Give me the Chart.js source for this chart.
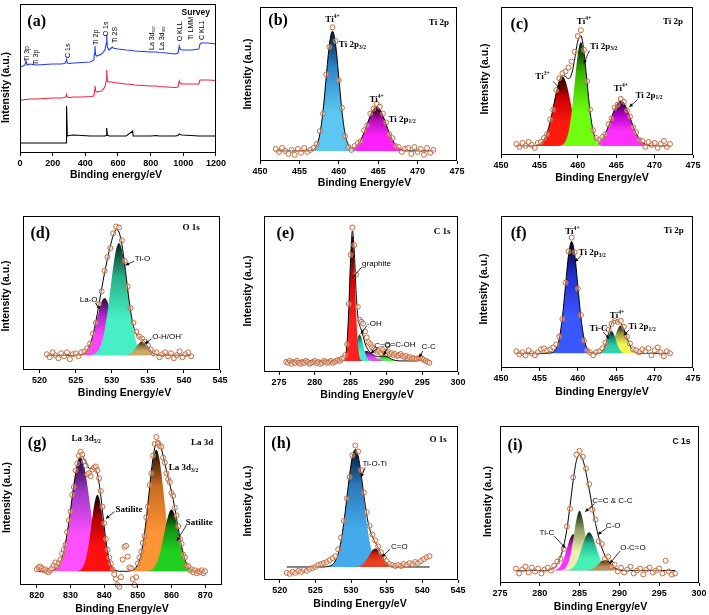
<!DOCTYPE html>
<html>
<head>
<meta charset="utf-8">
<script src="https://cdn.jsdelivr.net/npm/chart.js@4.4.1/dist/chart.umd.min.js"></script>
<style>
  html, body { margin: 0; padding: 0; background: #fff; }
  body { position: relative; width: 709px; height: 615px; overflow: hidden; }
  canvas { position: absolute; }
</style>
</head>
<body>
<script>
const SANS = "'Liberation Sans', Arial, Helvetica, sans-serif";
const SERIF = "'Liberation Serif', 'Times New Roman', Times, serif";

// ---------- (a) survey spectra ----------
const surveyEnergy = [0, 20, 30, 37, 44, 60, 100, 150, 200, 250, 275, 282, 285, 290, 300, 330, 380, 430, 452, 456, 459, 463, 470, 500, 520, 528, 531, 535, 545, 565, 570, 600, 650, 690, 693, 700, 750, 800, 835, 850, 900, 950, 968, 975, 980, 990, 1050, 1095, 1102, 1110, 1150, 1200];
const surveyBlue = [86, 87, 88, 92, 88, 89, 88, 88.5, 89, 89, 89.5, 92, 93, 90, 89.5, 90, 90.5, 91, 93, 100, 107, 98, 97, 99, 103, 110, 118, 106, 103, 106, 105, 104, 103, 102.5, 102.5, 102, 101.5, 101, 101, 100.5, 100, 99, 100, 107, 104, 103, 103, 104, 109, 110, 110, 109];
const surveyRed = [53, 53, 53.5, 53.5, 53.5, 54, 54, 54.5, 55, 55, 55.5, 57, 58, 56, 55.5, 56, 56, 56.5, 57, 62, 67, 62, 61, 62, 66, 72, 83, 72, 71, 71, 70.5, 70, 69, 68.5, 68.5, 68, 67.5, 67, 67, 66.5, 66, 65.5, 66, 72, 70, 69, 69, 69, 73, 73, 73, 72.5];
const surveyBlack = [10, 10, 10, 10, 10, 10, 10, 10, 10, 10, 10, 10, 47, 17, 17.5, 18, 17.5, 17, 17, 17, 17, 17, 17, 17, 17, 17.5, 25, 18, 17, 17, 17, 17, 17, 22, 17, 17, 17, 17, 17.5, 17, 17, 17, 17.5, 19, 18.5, 18, 17.5, 17, 17, 17, 17, 17];
const surveyTicks = [0, 200, 400, 600, 800, 1000, 1200];

// tick sets
const tiTicks = [450, 455, 460, 465, 470, 475];
const o1sTicks = [520, 525, 530, 535, 540, 545];
const c1sTicks = [275, 280, 285, 290, 295, 300];
const la3dTicks = [820, 830, 840, 850, 860, 870];

// ---------- (b) Ti 2p, grid 452..472 step 0.4 ----------
const bExp = [2, -1, 3, 0, -3, 1, -4, 2, -2, 3, -1, 1, 3, 7, 20, 38, 78, 106, 126, 112, 72, 44, 15, 4, 1, 5, 8, 10, 21, 26, 38, 43, 48, 45, 38, 29, 17, 13, 5, 4, -1, 2, 3, -3, 4, -1, 2, -4, 3, -2, 1];
const bTi32 = { from: 456.0, y: [0, 0.3, 1.5, 5.8, 17.3, 40.7, 74.9, 108, 122, 108, 74.9, 40.7, 17.3, 5.8, 1.5, 0.3, 0] };
const bTi12 = { from: 460.8, y: [0, 0.5, 1.3, 3.0, 6.1, 11.2, 18.5, 27.3, 36.0, 42.6, 45, 42.6, 36.0, 27.3, 18.5, 11.2, 6.1, 3.0, 1.3, 0.5, 0] };

// ---------- (c) Ti 2p, grid 452..472 step 0.4 ----------
const cExp = [2, -1, 3, 0, 4, 1, -2, 3, 4, 8, 12, 27, 37, 57, 69, 74, 76, 80, 86, 96, 112, 118, 98, 66, 37, 16, 8, 6, 9, 12, 22, 28, 39, 42, 48, 45, 36, 30, 19, 14, 6, 5, -1, 4, 1, 3, -2, 2, 5, -1, 2];
const cTi3 = { from: 454.0, y: [0, 0.3, 1.0, 2.8, 6.5, 13.5, 24.5, 39.0, 54.3, 66.2, 70.7, 66.2, 54.3, 39.0, 24.5, 13.5, 6.5, 2.8, 1.0, 0.3, 0] };
const cTi4 = { from: 457.2, y: [0, 0.2, 1.2, 4.7, 14.3, 34.4, 64.3, 93.5, 106, 93.5, 64.3, 34.4, 14.3, 4.7, 1.2, 0.2, 0] };
const cTi12 = { from: 461.2, y: [0, 0.3, 0.7, 1.7, 3.7, 7.3, 12.8, 20.3, 29.0, 37.5, 43.7, 46, 43.7, 37.5, 29.0, 20.3, 12.8, 7.3, 3.7, 1.7, 0.7, 0.3, 0] };

// ---------- (d) O 1s, grid 521..541 step 0.4 ----------
const dExp = [1, -2, 3, 0, -3, 2, -1, 3, -4, 1, 2, -1, 3, 4, 7, 12, 22, 33, 52, 65, 86, 100, 109, 124, 131, 130, 117, 96, 70, 48, 33, 24, 19, 17, 14, 10, 6, 2, 3, -2, 1, 3, -1, 2, -3, 0, 4, -2, 1, 3, -1];
const dLaO = { from: 525.0, y: [0, 0.3, 0.8, 2.3, 5.4, 11.1, 20.2, 32.1, 44.8, 54.6, 58.3, 54.6, 44.8, 32.1, 20.2, 11.1, 5.4, 2.3, 0.8, 0.3, 0] };
const dTiO = { from: 526.6, y: [0, 0.3, 0.8, 2.4, 5.9, 13.0, 25.2, 43.4, 66.3, 89.7, 107.6, 114.3, 107.6, 89.7, 66.3, 43.4, 25.2, 13.0, 5.9, 2.4, 0.8, 0.3, 0] };
const dOH = { from: 531.8, y: [0, 0.6, 1.9, 4.6, 8.5, 12.3, 14, 12.3, 8.5, 4.6, 1.9, 0.6, 0] };

// ---------- (e) C 1s, grid 276..296 step 0.25 ----------
const eExp = [-1, -2, 0, -3, -1, -2, 0, -2, -3, -1, -2, 0, -1, -3, -2, -1, 0, -2, -1, -3, -2, 0, -1, -2, -1, 0, -2, -1, 0,
  1, 0, 2, 3, 6, 17, 58, 108, 136, 118, 88, 55, 42, 40, 38, 30, 24, 19, 17, 14,
  12, 11, 9, 10, 8, 11, 9, 8, 9, 7, 8, 6, 7, 5, 6, 7, 5, 4, 5, 3, 4, 2, 3, 2, 2, 3, 3, 2, 1, 0, -1, -2];
const eGraphite = { from: 283.75, y: [0, 0.6, 4.0, 18.3, 53.8, 103.1, 128, 103.1, 53.8, 18.3, 4.0, 0.6, 0] };
const eOH = { from: 284.75, y: [0, 1.2, 3.7, 8.8, 16.4, 23.8, 27, 23.8, 16.4, 8.8, 3.7, 1.2, 0.3, 0] };
const eCO = { from: 284.75, y: [0, 0.4, 0.8, 1.5, 2.5, 3.8, 5.4, 7.1, 8.6, 9.6, 10, 9.6, 8.6, 7.1, 5.4, 3.8, 2.5, 1.5, 0.8, 0.4, 0] };
const eOCOH = { from: 287.75, y: [0, 0.2, 0.5, 1.0, 1.8, 2.8, 3.9, 4.7, 5, 4.7, 3.9, 2.8, 1.8, 1.0, 0.5, 0.2, 0] };
const eCC = { from: 294.0, y: [0, 0.5, 1.4, 2, 1.4, 0.5, 0] };

// ---------- (f) Ti 2p, grid 452..472 step 0.4 ----------
const fExp = [2, -1, 1, -2, 3, 0, -2, 1, 4, 5, 3, 4, 6, 9, 17, 35, 72, 104, 118, 103, 66, 39, 13, 3, 1, -2, 1, 2, 5, 11, 24, 30, 33, 32, 33, 27, 17, 10, 4, 3, 1, 4, 2, 5, -2, 3, 6, 1, -3, 2, 0];
const fTi32 = { from: 456.0, y: [0, 0.3, 1.3, 5.0, 15.4, 37.1, 69.2, 100.5, 114, 100.5, 69.2, 37.1, 15.4, 5.0, 1.3, 0.3, 0] };
const fTiC = { from: 462.4, y: [0, 0.3, 2.1, 7.9, 17.4, 22.7, 17.4, 7.9, 2.1, 0.3, 0] };
const fTi12 = { from: 463.2, y: [0, 0.8, 2.9, 7.9, 16.0, 24.5, 28.3, 24.5, 16.0, 7.9, 2.9, 0.8, 0] };

// ---------- (g) La 3d, grid 820..870 step 0.5 ----------
const gExp = [2, 4, 5, 3, 1, 2, 0, -1, 1, 3,
  6, 9, 5, 8, 12, 18, 22, 27, 40, 52,
  61, 78, 86, 103, 110, 118, 122, 119, 112, 108,
  99, 100, 97, 104, 106, 107, 103, 95, 82, 66,
  49, 33, 22, 14, 8, 2, -3, -8, -14, -16,
  -6, 12, 25, 26, 15, 4, 3, -8, -14, -6,
  8, 14, 20, 29, 36, 55, 66, 88, 100, 118,
  130, 137, 131, 128, 127, 116, 111, 100, 94, 91,
  80, 77, 65, 57, 46, 33, 28, 17, 14, 6,
  5, 1, 2, -1, 1, -2, 0, -1, 1, -2, 0];
const gLa52 = { from: 824.0, y: [0.4, 0.8, 1.4, 2.5, 4.0, 6.4, 9.8, 14.6, 20.9, 28.9, 38.7, 50.1, 62.6, 75.6, 88.2, 99.4, 108.3, 114.0, 116, 114.0, 108.3, 99.4, 88.2, 75.6, 62.6, 50.1, 38.7, 28.9, 20.9, 14.6, 9.8, 6.4, 4.0, 2.5, 1.4, 0.8, 0.4] };
const gSat1 = { from: 832.0, y: [0.3, 0.7, 1.6, 3.4, 6.6, 11.8, 19.5, 29.7, 42.1, 55.1, 66.9, 75.1, 78, 75.1, 66.9, 55.1, 42.1, 29.7, 19.5, 11.8, 6.6, 3.4, 1.6, 0.7, 0.3] };
const gLa32 = { from: 847.5, y: [0.3, 0.6, 1.2, 2.3, 4.1, 7.1, 11.7, 18.3, 27.3, 38.9, 53.0, 68.7, 85.0, 100.2, 112.8, 121.1, 124, 121.1, 112.8, 100.2, 85.0, 68.7, 53.0, 38.9, 27.3, 18.3, 11.7, 7.1, 4.1, 2.3, 1.2, 0.6, 0.3] };
const gSat2 = { from: 853.0, y: [0.4, 0.8, 1.5, 2.8, 4.8, 7.8, 12.1, 17.8, 24.9, 33.0, 41.7, 49.9, 56.8, 61.4, 63, 61.4, 56.8, 49.9, 41.7, 33.0, 24.9, 17.8, 12.1, 7.8, 4.8, 2.8, 1.5, 0.8, 0.4] };

// ---------- (h) O 1s, grid 521..541 step 0.4 ----------
const hExp = [-6, -7, -5, -6, -4, -5, -3, -4, -2, -1, 0, 2, 3, 4, 5, 7, 9, 11, 18, 30, 47, 70, 92, 114, 124, 118, 99, 76, 56, 42, 33, 27, 21, 15, 10, 6, 3, 2, 1, 2, 1, 3, 2, 4, 3, 5, 4, 6, 8, 10, 11];
const hTiOTi = { from: 526.2, y: [0, 0.3, 0.9, 2.5, 6.2, 13.6, 26.4, 45.6, 69.6, 94.2, 112.9, 120, 112.9, 94.2, 69.6, 45.6, 26.4, 13.6, 6.2, 2.5, 0.9, 0.3, 0] };
const hCO = { from: 530.6, y: [0, 0.5, 1.6, 3.9, 7.8, 12.8, 17.2, 19, 17.2, 12.8, 7.8, 3.9, 1.6, 0.5, 0] };

// ---------- (i) C 1s, grid 277..297 step 0.4 ----------
const iExp = [2, -3, 1, 4, -2, 3, -1, 2, -3, 1, 3, 0, 5, 9, 12, 22, 45, 63, 95, 118, 122, 116, 104, 88, 62, 52, 30, 27, 12, 14, 4, 6, -1, 3, -2, 1, 4, -3, 0, 2, -4, 1, 3, -2, 0, 2, -3, 10, -1, -4, -3];
const iFit = { from: 281.0, y: [0, 1, 3, 7, 14, 25, 42, 66, 92, 112, 118, 113, 100, 83, 65, 48, 34, 23, 15, 10, 6, 3, 1, 0] };
const iTiC = { from: 281.4, y: [0, 0.4, 1.6, 5.0, 12.0, 22.5, 32.6, 37, 32.6, 22.5, 12.0, 5.0, 1.6, 0.4, 0] };
const iCC = { from: 282.2, y: [0, 0.2, 1.0, 4.5, 14.0, 31.7, 51.8, 61, 51.8, 31.7, 14.0, 4.5, 1.0, 0.2, 0] };
const iCO = { from: 283.0, y: [0, 0.3, 1.1, 3.3, 8.0, 16.0, 26.3, 35.3, 39, 35.3, 26.3, 16.0, 8.0, 3.3, 1.1, 0.3, 0] };
const iOCO = { from: 285.8, y: [0, 0.5, 1.5, 3.6, 6.7, 9.7, 11, 9.7, 6.7, 3.6, 1.5, 0.5, 0] };

// text styles: size, family, weight
const STY = {
  P: [16, SERIF, 'bold'],
  S: [9, SERIF, 'bold'],
  s: [8, SANS, 'normal'],
  T: [8.5, SANS, 'bold'],
  r: [7, SANS, 'normal']
};

const panels = [
  { key: 'a', box: [20, 4, 216, 153], xr: [0, 1200], yr: [0, 149], ticks: surveyTicks,
    xTitle: 'Binding energy/eV', xt: [-2, 22], yt: [14, 9],
    lines: [[surveyBlue, '#1f3cf0'], [surveyRed, '#f0203c'], [surveyBlack, '#000000']],
    labels: [['(a)', 102, 130.7, 'P', 'center'], ['Survey', 1076, 140, 'T', 'center'],
      ['Ti 3p', 41, 91.7, 'r'], ['Ti 3p', 98, 88, 'r'], ['C 1s', 296, 95, 'r'], ['Ti 2p', 463, 108, 'r'],
      ['O 1s', 527, 116.7, 'r'], ['Ti 2S', 580, 110, 'r'], ['La 3d_{5/2}', 806, 103, 'r'], ['La 3d_{3/2}', 867, 103, 'r'],
      ['O KLL', 980, 111.7, 'r'], ['Ti LMM', 1047, 113, 'r'], ['C KL1', 1112, 113, 'r']],
    arrows: [] },
  { key: 'b', box: [260, 4, 457, 161], xr: [450, 475], yr: [-10.3, 146.7], ticks: tiTicks,
    from: 452, step: 0.4, exp: bExp,
    comps: [[bTi32, ['#0b1630', '#2a86c8', '#5cc8f2']], [bTi12, ['#1a0010', '#b810b8', '#ff20ff']]],
    xTitle: 'Binding Energy/eV', xt: [6, 21.7], yt: [12, -10],
    labels: [['(b)', 452.3, 132.3, 'P', 'center'], ['Ti^{4+}', 459.2, 133.3, 'S', 'center'], ['Ti 2p_{3/2}', 460.0, 108, 'S', 'left'],
      ['Ti^{4+}', 464.8, 52.3, 'S', 'center'], ['Ti 2p_{1/2}', 466.3, 32.3, 'S', 'left'], ['Ti 2p', 472.7, 130.7, 'S', 'center']],
    arrows: [] },
  { key: 'c', box: [501, 4, 693, 155], xr: [450, 475], yr: [-9.3, 141.7], ticks: tiTicks,
    from: 452, step: 0.4, exp: cExp,
    comps: [[cTi4, ['#001800', '#38b800', '#70ff10']], [cTi3, ['#120000', '#cc0000', '#ff1a10']], [cTi12, ['#1a0020', '#b000c8', '#ff30ff']]],
    xTitle: 'Binding Energy/eV', xt: [5, 22.7], yt: [16, -2],
    labels: [['(c)', 452.4, 123, 'P', 'center'], ['Ti^{4+}', 460.8, 126.3, 'S', 'center'], ['Ti 2p_{3/2}', 461.6, 101.7, 'S', 'left'],
      ['Ti^{3+}', 455.4, 70.7, 'S', 'center'], ['Ti^{4+}', 465.6, 58.3, 'S', 'center'], ['Ti 2p_{1/2}', 467.5, 51.7, 'S', 'left'],
      ['Ti 2p', 472.4, 126.3, 'S', 'center']],
    arrows: [[461.5, 97.3, 460.8, 84], [456.8, 65.7, 457.8, 57.3], [467.8, 47.3, 466.7, 39.7]] },
  { key: 'd', box: [23, 213, 220, 370], xr: [517.7, 545], yr: [-15, 141.7], ticks: o1sTicks,
    from: 521, step: 0.4, exp: dExp,
    comps: [[dOH, ['#1c1c0c', '#7c7038', '#c8a868']], [dTiO, ['#0a2418', '#26b088', '#46f0c4']], [dLaO, ['#2a0a30', '#a828c8', '#ff44ff']]],
    xTitle: 'Binding Energy/eV', xt: [3, 22.7], yt: [17, 3],
    labels: [['(d)', 520.1, 123.3, 'P', 'center'], ['O 1s', 541.0, 130, 'S', 'center'], ['Ti-O', 533.2, 97.7, 's', 'left'],
      ['La-O', 526.8, 56.7, 's', 'center'], ['O-H/OH^{-}', 535.6, 18.3, 's', 'left']],
    arrows: [[533.1, 95.7, 531.9, 91.7], [527.7, 53.3, 528.4, 46.7], [535.5, 16.7, 534.6, 11.7]] },
  { key: 'e', box: [264, 213, 458, 372], xr: [272.9, 300], yr: [-11.3, 147.7], ticks: c1sTicks,
    from: 276, step: 0.25, exp: eExp,
    comps: [[eGraphite, ['#1a0000', '#c80000', '#ff2020']], [eOH, ['#0c2a1c', '#22c09c', '#44f0d0']], [eCO, ['#2a0038', '#a020c0', '#e048f0']],
      [eOCOH, ['#1a5a1a', '#30c030', '#50f050']], [eCC, ['#106010', '#40d040']]],
    xTitle: 'Binding Energy/eV', xt: [6, 22.7], yt: [16, -3],
    labels: [['(e)', 275.9, 129.3, 'P', 'center'], ['C 1s', 297.8, 131.7, 'S', 'center'], ['graphite', 286.6, 99.3, 's', 'left'],
      ['-OH', 287.3, 38.3, 's', 'left'], ['C=O', 288.3, 15, 's', 'left'], ['O=C-OH', 289.7, 16.5, 's', 'left'], ['C-C', 294.9, 14.3, 's', 'left']],
    arrows: [[286.6, 96, 285.3, 85], [287.3, 36, 286.4, 27.7], [288.7, 12.7, 287.8, 7.7], [290.2, 13.7, 289.6, 6], [295.1, 10.3, 294.6, 3.7]] },
  { key: 'f', box: [501, 213, 693, 368], xr: [450, 475], yr: [-15, 140], ticks: tiTicks,
    from: 452, step: 0.4, exp: fExp,
    comps: [[fTiC, ['#001010', '#108a74', '#30d0a8']], [fTi12, ['#141414', '#9a9a40', '#f4f450']], [fTi32, ['#000020', '#2030d0', '#3a58ff']]],
    xTitle: 'Binding Energy/eV', xt: [5, 24.4], yt: [17, -3],
    labels: [['(f)', 452.3, 121.7, 'P', 'center'], ['Ti^{4+}', 459.3, 124, 'S', 'center'], ['Ti 2p_{3/2}', 460.1, 102.7, 'S', 'left'],
      ['Ti-C', 462.7, 25, 'S', 'center'], ['Ti^{4+}', 465.1, 38.3, 'S', 'center'], ['Ti 2p_{1/2}', 466.6, 27.3, 'S', 'left'],
      ['Ti 2p', 472.5, 125, 'S', 'center']],
    arrows: [[460.5, 100, 459.6, 93.3], [463.3, 21.7, 464.1, 15], [466.7, 24, 466.0, 18.3]] },
  { key: 'g', box: [20, 423, 222, 585], xr: [815, 875], yr: [-14, 148.3], ticks: la3dTicks,
    from: 820, step: 0.5, exp: gExp,
    comps: [[gSat1, ['#000000', '#b00000', '#ff1010']], [gLa52, ['#1e0830', '#a038c8', '#ff50ff']], [gSat2, ['#000000', '#109010', '#20d020']], [gLa32, ['#1a0c00', '#c86c20', '#ff9434']]],
    xTitle: 'Binding Energy/eV', xt: [1, 24.3], yt: [13, -8],
    labels: [['(g)', 820.1, 130, 'P', 'center'], ['La 3d_{5/2}', 830.3, 135, 'S', 'left'], ['La 3d', 869.1, 131, 'S', 'center'],
      ['Satilite', 843.4, 62.7, 'S', 'left'], ['La 3d_{3/2}', 859.2, 106, 'S', 'left'], ['Satilite', 864.2, 49.3, 'S', 'left']],
    arrows: [[843.1, 61, 840.5, 53.7], [864.4, 47, 861.6, 31]] },
  { key: 'h', box: [264, 423, 458, 580], xr: [517.8, 545], yr: [-13.3, 144], ticks: o1sTicks,
    from: 521, step: 0.4, exp: hExp,
    comps: [[hCO, ['#300000', '#c82414', '#e84020']], [hTiOTi, ['#001428', '#2a78bc', '#44aaec']]],
    xTitle: 'Binding Energy/eV', xt: [-1, 24], yt: [16, -2],
    labels: [['(h)', 520.2, 126, 'P', 'center'], ['O 1s', 542.2, 130, 'S', 'center'], ['Ti-O-Ti', 531.6, 105, 's', 'left'], ['C=O', 535.6, 21, 's', 'left']],
    arrows: [[532.0, 101.7, 531.4, 91.7], [535.5, 18.3, 534.3, 10]] },
  { key: 'i', box: [500, 423, 699, 583], xr: [275, 300], yr: [-12.7, 147.3], ticks: c1sTicks,
    from: 277, step: 0.4, exp: iExp, fit: iFit,
    comps: [[iOCO, ['#1a0c00', '#8a5a30', '#c09060']], [iCO, ['#0c2a1a', '#24b890', '#44f0b4']], [iCC, ['#0c1c0c', '#8a9a60', '#eeeeb0']], [iTiC, ['#1a001a', '#c820c8', '#ff34ff']]],
    xTitle: 'Binding Energy/eV', xt: [1, 24], yt: [12, -3],
    labels: [['(i)', 276.9, 126.7, 'P', 'center'], ['C 1s', 297.8, 131.7, 'T', 'center'], ['C=C & C-C', 286.6, 71, 's', 'left'],
      ['C-O', 288.3, 46, 's', 'left'], ['Ti-C', 280.9, 38.3, 's', 'center'], ['O-C=O', 290.1, 23.3, 's', 'left']],
    arrows: [[286.9, 68.3, 285.7, 60], [288.4, 43.3, 287.3, 36.7], [281.8, 35, 283.2, 23.3], [290.1, 20, 288.8, 7.3]] }
];

function pts(xs, ys) { return xs.map((x, i) => ({ x: x, y: ys[i] })); }

function onGrid(xs, step, comp) {
  const out = xs.map(() => 0);
  const off = Math.round((comp.from - xs[0]) / step);
  comp.y.forEach((v, i) => { if (off + i >= 0 && off + i < out.length) out[off + i] = v; });
  return out;
}

// vertical gradient: dark at the peak top, bright over the lower part
function shade(stops, top) {
  const pos = stops.length === 3 ? [0, 0.3, 0.68] : [0, 0.6];
  return (c) => {
    const ch = c.chart;
    if (!ch.chartArea) return stops[stops.length - 1];
    const y0 = ch.scales.y.getPixelForValue(top);
    const y1 = ch.scales.y.getPixelForValue(0);
    const g = ch.ctx.createLinearGradient(0, y0, 0, y1);
    stops.forEach((s, i) => g.addColorStop(pos[i], s));
    g.addColorStop(1, stops[stops.length - 1]);
    return g;
  };
}

// text with ^{sup} and _{sub}
function rich(ctx, str, x, y, sty, align) {
  const [size, fam, weight] = sty;
  const parts = [];
  const re = /([_^])\{([^}]*)\}|([^_^]+)/g;
  let m;
  while ((m = re.exec(str))) {
    if (m[3]) parts.push({ t: m[3], k: 0 });
    else parts.push({ t: m[2], k: m[1] === '^' ? 1 : -1 });
  }
  const fnt = k => weight + ' ' + (k ? size * 0.62 : size) + 'px ' + fam;
  let w = 0;
  parts.forEach(p => { ctx.font = fnt(p.k); p.w = ctx.measureText(p.t).width; w += p.w; });
  let cx = align === 'center' ? x - w / 2 : (align === 'right' ? x - w : x);
  ctx.textAlign = 'left';
  ctx.textBaseline = 'middle';
  parts.forEach(p => {
    ctx.font = fnt(p.k);
    const dy = p.k === 1 ? -size * 0.38 : (p.k === -1 ? size * 0.3 : 0);
    ctx.fillText(p.t, cx, y + dy);
    cx += p.w;
  });
}

function decor(p) {
  return {
    id: 'decor_' + p.key,
    afterDraw(chart) {
      const ctx = chart.ctx, a = chart.chartArea, sx = chart.scales.x, sy = chart.scales.y;
      ctx.save();
      ctx.strokeStyle = '#000';
      ctx.lineWidth = 1;
      ctx.strokeRect(Math.round(a.left) + 0.5, Math.round(a.top) + 0.5, Math.round(a.right - a.left) - 1, Math.round(a.bottom - a.top) - 1);
      ctx.fillStyle = '#000';
      p.arrows.forEach(([x1, y1, x2, y2]) => {
        const X1 = sx.getPixelForValue(x1), Y1 = sy.getPixelForValue(y1);
        const X2 = sx.getPixelForValue(x2), Y2 = sy.getPixelForValue(y2);
        ctx.lineWidth = 0.8;
        ctx.beginPath(); ctx.moveTo(X1, Y1); ctx.lineTo(X2, Y2); ctx.stroke();
        const ang = Math.atan2(Y2 - Y1, X2 - X1);
        ctx.beginPath();
        ctx.moveTo(X2, Y2);
        ctx.lineTo(X2 - 4 * Math.cos(ang - 0.45), Y2 - 4 * Math.sin(ang - 0.45));
        ctx.lineTo(X2 - 4 * Math.cos(ang + 0.45), Y2 - 4 * Math.sin(ang + 0.45));
        ctx.closePath(); ctx.fill();
      });
      p.labels.forEach(([t, x, y, st, al]) => {
        const X = sx.getPixelForValue(x), Y = sy.getPixelForValue(y);
        if (st === 'r') {
          ctx.save(); ctx.translate(X, Y); ctx.rotate(-Math.PI / 2);
          rich(ctx, t, 0, 0, STY[st], 'left');
          ctx.restore();
        } else {
          rich(ctx, t, X, Y, STY[st], al);
        }
      });
      // axis titles
      ctx.font = 'bold 10.5px ' + SANS;
      ctx.textAlign = 'center';
      ctx.textBaseline = 'middle';
      ctx.fillText(p.xTitle, (a.left + a.right) / 2 + p.xt[0], a.bottom + p.xt[1]);
      ctx.save();
      ctx.translate(a.left - p.yt[0], (a.top + a.bottom) / 2 + p.yt[1]);
      ctx.rotate(-Math.PI / 2);
      ctx.fillText('Intensity (a.u.)', 0, 0);
      ctx.restore();
      ctx.restore();
    }
  };
}

function build(p) {
  const [l, t, r, b] = p.box;
  const cv = document.createElement('canvas');
  cv.width = r - l + 42;
  cv.height = b - t + 36;
  cv.style.left = (l - 30) + 'px';
  cv.style.top = (t - 2) + 'px';
  document.body.appendChild(cv);

  const sets = [];
  if (p.lines) {
    p.lines.forEach(([ys, col], k) => {
      sets.push({ data: pts(surveyEnergy, ys), showLine: true, pointRadius: 0, borderColor: col, borderWidth: 1.1, tension: 0, order: k });
    });
  } else {
    const xs = p.exp.map((_, i) => +(p.from + i * p.step).toFixed(2));
    sets.push({ data: pts(xs, p.exp), showLine: false, pointRadius: 2.5, pointBorderWidth: 1,
      pointBorderColor: '#c8683a', pointBackgroundColor: 'rgba(255,250,245,0.35)', order: 0, clip: false });
    let fit;
    if (p.fit) {
      fit = onGrid(xs, p.step, p.fit);
    } else {
      const grids = p.comps.map(([c]) => onGrid(xs, p.step, c));
      fit = xs.map((_, i) => grids.reduce((s, g) => s + g[i], 0));
    }
    sets.push({ data: pts(xs, fit), showLine: true, pointRadius: 0, borderColor: '#000', borderWidth: 1,
      fill: false, cubicInterpolationMode: 'monotone', order: 1 });
    p.comps.forEach(([c, stops], k) => {
      const cx = c.y.map((_, i) => +(c.from + i * p.step).toFixed(2));
      sets.push({ data: pts(cx, c.y), showLine: true, pointRadius: 0, borderWidth: 0, borderColor: 'rgba(0,0,0,0)',
        fill: 'origin', backgroundColor: shade(stops, Math.max(...c.y)), cubicInterpolationMode: 'monotone', order: 2 + k });
    });
  }

  new Chart(cv, {
    type: 'scatter',
    data: { datasets: sets },
    options: {
      responsive: false,
      animation: false,
      devicePixelRatio: 1,
      events: [],
      layout: { padding: { left: 0, top: 2, right: 12, bottom: 0 } },
      plugins: { legend: { display: false }, tooltip: { enabled: false } },
      scales: {
        x: {
          type: 'linear', min: p.xr[0], max: p.xr[1],
          afterFit: s => { s.height = 34; },
          afterBuildTicks: s => { s.ticks = p.ticks.map(v => ({ value: v })); },
          ticks: { autoSkip: false, maxRotation: 0, padding: 2, color: '#000',
            font: { family: SANS, size: 9, weight: 'bold' }, callback: v => String(v) },
          grid: { display: true, drawOnChartArea: false, drawTicks: true, tickLength: 3, color: '#000' },
          border: { display: false }
        },
        y: {
          type: 'linear', min: p.yr[0], max: p.yr[1],
          afterFit: s => { s.width = 30; },
          ticks: { display: false },
          grid: { display: false },
          border: { display: false }
        }
      }
    },
    plugins: [decor(p)]
  });
}

panels.forEach(build);
</script>
</body>
</html>
